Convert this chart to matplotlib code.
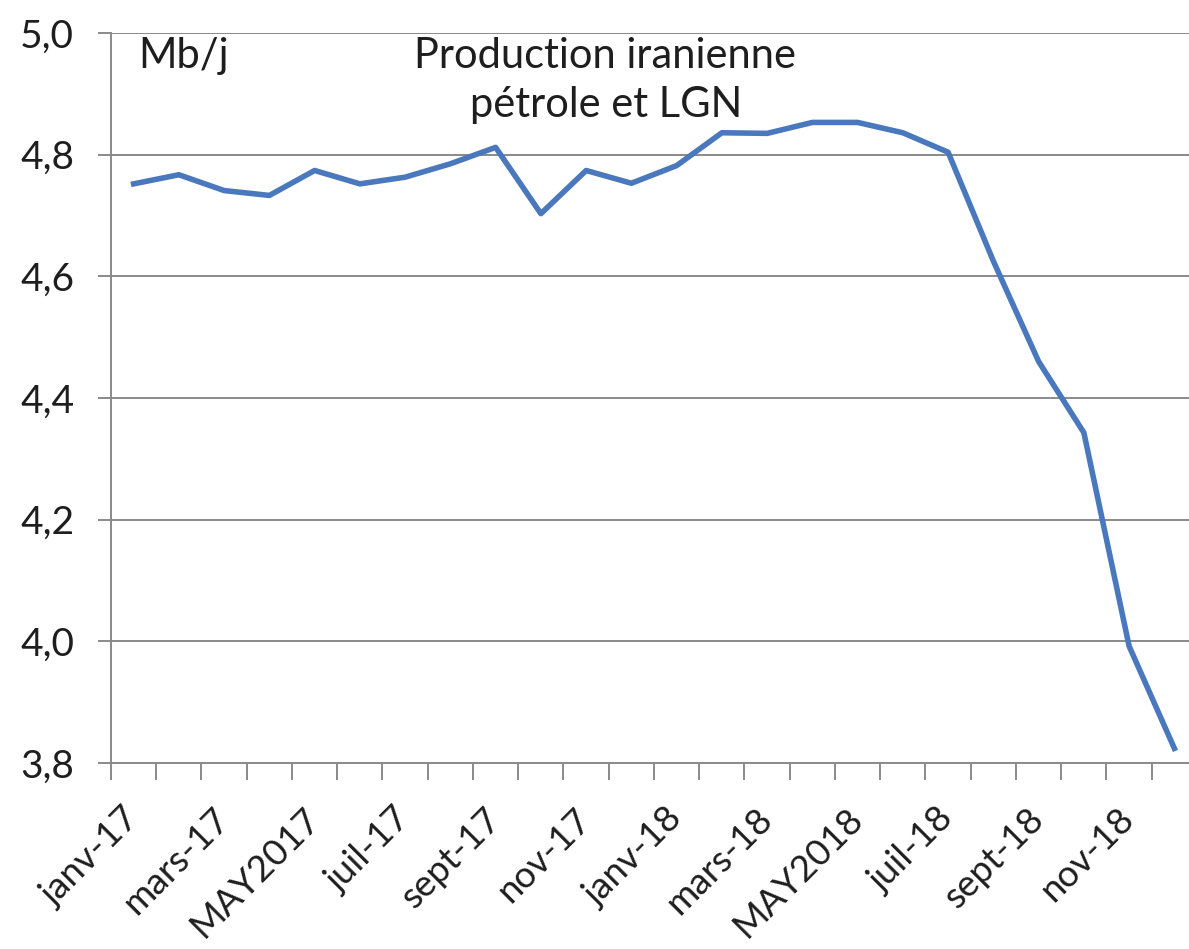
import matplotlib.pyplot as plt
import matplotlib.transforms as mtransforms
from matplotlib.ticker import FuncFormatter, FixedLocator, NullFormatter

# monthly production, janv-17 .. dec-18 (Mb/j)
months = ["janv-17", "fevr-17", "mars-17", "avr-17", "MAY2017", "juin-17",
          "juil-17", "aout-17", "sept-17", "oct-17", "nov-17", "dec-17",
          "janv-18", "fevr-18", "mars-18", "avr-18", "MAY2018", "juin-18",
          "juil-18", "aout-18", "sept-18", "oct-18", "nov-18", "dec-18"]
production = [4.752, 4.767, 4.741, 4.733, 4.774, 4.752, 4.763, 4.785,
              4.812, 4.703, 4.774, 4.753, 4.782, 4.836, 4.835, 4.853,
              4.853, 4.836, 4.804, 4.625, 4.46, 4.343, 3.992, 3.824]
yticks = [3.8, 4.0, 4.2, 4.4, 4.6, 4.8, 5.0]

plt.rcParams['font.family'] = ['Lato', 'DejaVu Sans']
grid_col = "#8a8a8a"
txt_col = "#1e1e1e"

fig = plt.figure(figsize=(11.89, 9.49), dpi=100)
ax = fig.add_axes([111 / 1189, 186 / 949, 1086 / 1189, 730 / 949])

x = list(range(len(months)))
ax.plot(x, production, color="#4a78bd", linewidth=4.0)

ax.set_xlim(-0.5, len(months) - 0.5)
ax.set_ylim(3.8, 5.0)
ax.set_yticks(yticks)
ax.yaxis.set_major_formatter(FuncFormatter(lambda v, p: f"{v:.1f}".replace(".", ",")))
ax.grid(axis="y", color=grid_col, linewidth=1.4)
ax.set_axisbelow(True)

# ticks on category boundaries
ax.xaxis.set_major_locator(FixedLocator([i - 0.5 for i in range(len(months) + 1)]))
ax.xaxis.set_major_formatter(NullFormatter())
ax.tick_params(axis="x", which="major", length=12.5, width=1.4, color=grid_col, direction="out")
ax.tick_params(axis="y", length=9.5, width=1.4, color=grid_col, labelsize=28,
               pad=17, labelcolor=txt_col)

# labels every other month, rotated, hung under the category centre
lab_trans = ax.get_xaxis_transform() + mtransforms.ScaledTranslation(-0.12, -0.39, fig.dpi_scale_trans)
for i in x[::2]:
    ax.text(i, 0, months[i], transform=lab_trans, rotation=45, ha="right", va="top",
            rotation_mode="anchor", fontsize=26.5, color=txt_col, clip_on=False)

for s in ["top", "right"]:
    ax.spines[s].set_visible(False)
for s in ["left", "bottom"]:
    ax.spines[s].set_color(grid_col)
    ax.spines[s].set_linewidth(1.4)

ax.text(0.1, 4.942, "Mb/j", fontsize=30, color=txt_col, va="baseline", ha="left")
ax.text(10.42, 4.942, "Production iranienne", fontsize=30, color=txt_col,
        va="baseline", ha="center")
ax.text(10.44, 4.862, "pétrole et LGN", fontsize=30, color=txt_col,
        va="baseline", ha="center")

fig.savefig("out.png", dpi=100)
